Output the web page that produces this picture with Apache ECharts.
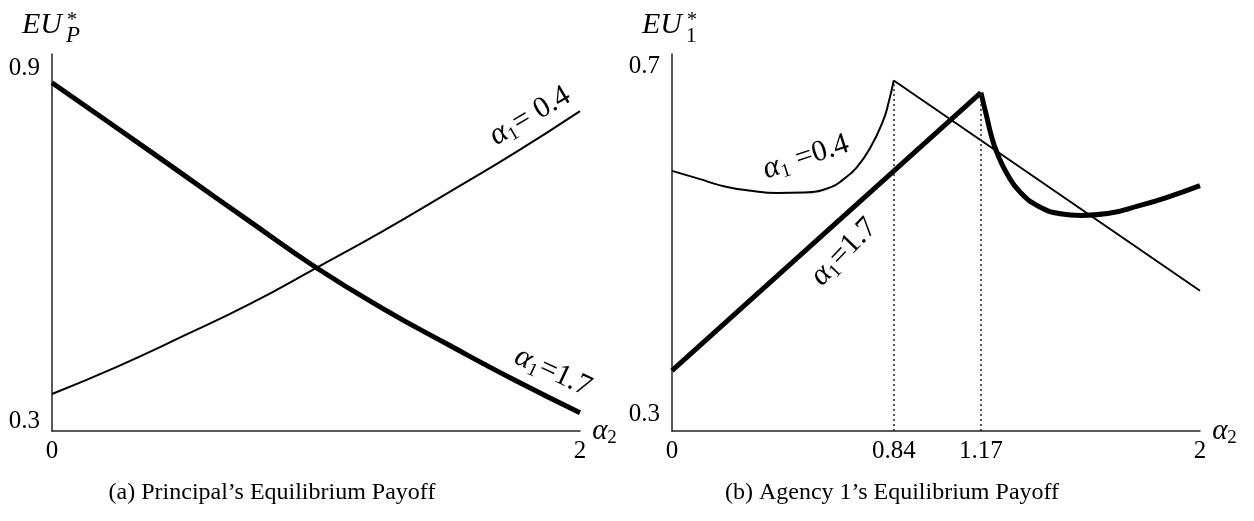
<!DOCTYPE html>
<html>
<head>
<meta charset="utf-8">
<script src="https://cdn.jsdelivr.net/npm/echarts@6/dist/echarts.min.js"></script>
<style>
  html, body { margin: 0; padding: 0; background: #fff; }
  #chart { width: 1254px; height: 521px; }
</style>
</head>
<body>
<div id="chart"></div>
<script>
// ---- Panel (a): principal's equilibrium payoff EU*_P against alpha_2 ----
const alpha2Grid   = [0, 0.25, 0.5, 0.75, 1, 1.25, 1.5, 1.75, 2];
const principalA04 = [0.346, 0.393, 0.445, 0.499, 0.560, 0.622, 0.688, 0.755, 0.827]; // alpha_1 = 0.4
const principalA17 = [0.875, 0.797, 0.718, 0.639, 0.561, 0.492, 0.430, 0.370, 0.314]; // alpha_1 = 1.7

// ---- Panel (b): agency 1's equilibrium payoff EU*_1 against alpha_2 ----
// alpha_1 = 0.4: curved part up to the kink at 0.84, then a straight decline
const agencyA04CurveX = [0, 0.1, 0.2, 0.3, 0.4, 0.5, 0.6, 0.65, 0.7, 0.75, 0.8, 0.82, 0.84];
const agencyA04CurveY = [0.580, 0.571, 0.562, 0.557, 0.5545, 0.555, 0.561, 0.5705, 0.584, 0.606, 0.638, 0.658, 0.684];
const agencyA04LineX  = [0.84, 2];
const agencyA04LineY  = [0.684, 0.442];
// alpha_1 = 1.7: straight rise up to the kink at 1.17, then a curve
const agencyA17LineX  = [0, 1.17];
const agencyA17LineY  = [0.350, 0.670];
const agencyA17CurveX = [1.17, 1.19, 1.21, 1.23, 1.27, 1.32, 1.39, 1.47, 1.55, 1.65, 1.77, 1.87, 2];
const agencyA17CurveY = [0.670, 0.645, 0.620, 0.6016, 0.576, 0.555, 0.539, 0.5307, 0.5287, 0.5308, 0.540, 0.549, 0.563];

// ---- tick labels ----
const xTicksA = [0, 2];
const yTicksA = [0.3, 0.9];
const xTicksB = [0, 0.84, 1.17, 2];
const yTicksB = [0.3, 0.7];

const SERIF = "'Liberation Serif', 'DejaVu Serif', serif";
const INK = '#000';
const AXIS_INK = '#222';

const zip = (xs, ys) => xs.map((x, i) => [x, ys[i]]);

function xAxisCfg(gridIndex, ticks) {
  return {
    type: 'value', gridIndex, min: 0, max: 2,
    axisLine: { show: true, onZero: false, lineStyle: { color: AXIS_INK, width: 1.5 } },
    axisTick: { show: false },
    splitLine: { show: false },
    axisLabel: {
      customValues: ticks, formatter: v => String(v),
      fontFamily: SERIF, fontSize: 25, color: INK, margin: 8
    },
    name: '{a|α}{s|2}', nameLocation: 'end', nameGap: 12,
    nameTextStyle: {
      rich: {
        a: { fontFamily: SERIF, fontStyle: 'italic', fontSize: 29, color: INK },
        s: { fontFamily: SERIF, fontSize: 19, color: INK, padding: [14, 0, 0, 0] }
      }
    }
  };
}

function yAxisCfg(gridIndex, min, max, ticks) {
  return {
    type: 'value', gridIndex, min, max,
    axisLine: { show: true, onZero: false, lineStyle: { color: AXIS_INK, width: 1.5 } },
    axisTick: { show: false },
    splitLine: { show: false },
    axisLabel: {
      customValues: ticks, formatter: v => String(v),
      fontFamily: SERIF, fontSize: 25, color: INK, margin: 12
    }
  };
}

function curve(xIdx, data, width, smooth) {
  return {
    type: 'line', xAxisIndex: xIdx, yAxisIndex: xIdx, data,
    showSymbol: false, smooth: smooth ? 0.5 : false,
    lineStyle: { color: INK, width }, silent: true, z: width > 3 ? 3 : 2
  };
}

const yMinB = 0.2805;
const kinkLow  = [agencyA04LineX[0], agencyA04LineY[0]];
const kinkHigh = [agencyA17LineX[1], agencyA17LineY[1]];

// rich styles for the in-plot math annotations
const mathRich = {
  m: { fontFamily: SERIF, fontStyle: 'italic', fontSize: 31, fill: INK },
  s: { fontFamily: SERIF, fontSize: 19, fill: INK, padding: [15, 1, 0, 0] },
  r: { fontFamily: SERIF, fontSize: 30, fill: INK }
};
const deg = d => d * Math.PI / 180;

function note(x, y, rot, text) {
  return {
    type: 'text', x, y, rotation: deg(rot), silent: true,
    style: { text, rich: mathRich, align: 'center', verticalAlign: 'middle', fill: INK }
  };
}
function plain(x, y, text, size, italic, align) {
  return {
    type: 'text', x, y, silent: true,
    style: {
      text, fontFamily: SERIF, fontSize: size, fontStyle: italic ? 'italic' : 'normal',
      fill: INK, align: align || 'center', verticalAlign: 'middle'
    }
  };
}

const option = {
  animation: false,
  backgroundColor: '#fff',
  grid: [
    { left: 52, top: 54, width: 528, height: 377 },
    { left: 672, top: 54, width: 528, height: 377 }
  ],
  xAxis: [xAxisCfg(0, xTicksA), xAxisCfg(1, xTicksB)],
  yAxis: [yAxisCfg(0, 0.283, 0.924, yTicksA), yAxisCfg(1, yMinB, 0.7145, yTicksB)],
  series: [
    curve(0, zip(alpha2Grid, principalA04), 2, true),
    curve(0, zip(alpha2Grid, principalA17), 5, true),
    curve(1, zip(agencyA04CurveX, agencyA04CurveY), 2, true),
    curve(1, zip(agencyA04LineX, agencyA04LineY), 2, false),
    curve(1, zip(agencyA17LineX, agencyA17LineY), 5, false),
    Object.assign(curve(1, zip(agencyA17CurveX, agencyA17CurveY), 5, true), {
      markLine: {
        silent: true, symbol: ['none', 'none'], label: { show: false },
        lineStyle: { type: [2, 3], color: AXIS_INK, width: 1.5 },
        data: [
          [{ coord: [kinkLow[0], yMinB] }, { coord: kinkLow }],
          [{ coord: [kinkHigh[0], yMinB] }, { coord: kinkHigh }]
        ]
      }
    })
  ],
  graphic: [
    // y-axis titles
    plain(22, 25, 'EU', 30, true, 'left'),
    plain(67, 21, '*', 20, false, 'left'),
    plain(66, 36, 'P', 23, true, 'left'),
    plain(642, 25, 'EU', 30, true, 'left'),
    plain(687, 21, '*', 20, false, 'left'),
    plain(686, 36, '1', 21, false, 'left'),
    // curve annotations
    note(530, 116, 30.5, '{m|α}{s|1}{r|= 0.4}'),
    note(553, 372, -25, '{m|α}{s|1}{r|=1.7}'),
    note(806, 157, 18, '{m|α}{s|1}{r| =0.4}'),
    note(844, 252, 46, '{m|α}{s|1}{r|=1.7}'),
    // captions
    plain(272, 493, '(a) Principal’s Equilibrium Payoff', 24, false),
    plain(892, 493, '(b) Agency 1’s Equilibrium Payoff', 24, false)
  ]
};

const chart = echarts.init(document.getElementById('chart'));
chart.setOption(option);
</script>
</body>
</html>
